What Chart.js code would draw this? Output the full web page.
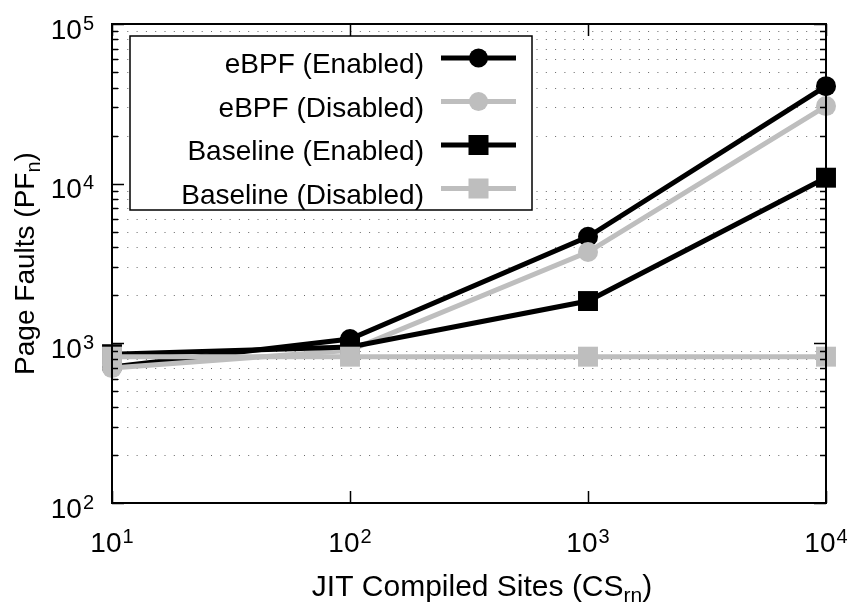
<!DOCTYPE html>
<html>
<head>
<meta charset="utf-8">
<script src="https://cdn.jsdelivr.net/npm/chart.js@4/dist/chart.umd.min.js"></script>
<style>
  html, body { margin: 0; padding: 0; background: #fff; }
  #wrap { width: 857px; height: 602px; }
</style>
</head>
<body>
<div id="wrap"><canvas id="pfChart" width="857" height="602"></canvas></div>
<script>
// JIT compiled sites (x axis) and page faults for each run
const sites = [10, 100, 1000, 10000];
const ebpfEnabled = [710, 1065, 4650, 40800];
const ebpfDisabled = [700, 905, 3730, 30600];
const baseEnabled = [855, 950, 1840, 10900];
const baseDisabled = [825, 825, 825, 825];

const seriesLabels = ['eBPF (Enabled)', 'eBPF (Disabled)', 'Baseline (Enabled)', 'Baseline (Disabled)'];

// tick values (log axes)
const xTicks = [10, 100, 1000, 10000];
const yMajor = [100, 1000, 10000, 100000];
const yMinor = [200, 300, 400, 500, 600, 700, 800, 900,
  2000, 3000, 4000, 5000, 6000, 7000, 8000, 9000,
  20000, 30000, 40000, 50000, 60000, 70000, 80000, 90000];

const FONT = "'Liberation Sans', Arial, sans-serif";
const BLACK = '#000000';
const GRAY = '#bebebe';

function pts(vals) {
  return sites.map((x, i) => ({ x: x, y: vals[i] }));
}

function series(label, vals, color, style, order) {
  return {
    label: label,
    data: pts(vals),
    borderColor: color,
    backgroundColor: color,
    borderWidth: 5,
    pointStyle: style,
    pointRadius: style === 'rect' ? 14.1 : 10,
    pointBorderWidth: 0,
    pointBackgroundColor: color,
    tension: 0,
    clip: false,
    order: order
  };
}

// "10" with a raised exponent
function powText(ctx, exp, x, baseY, align) {
  ctx.font = '28px ' + FONT;
  const wb = ctx.measureText('10').width;
  ctx.font = '20px ' + FONT;
  const we = ctx.measureText(String(exp)).width;
  const total = wb + 1 + we;
  const left = align === 'right' ? x - total : x - total / 2;
  ctx.textAlign = 'left';
  ctx.textBaseline = 'alphabetic';
  ctx.fillStyle = BLACK;
  ctx.font = '28px ' + FONT;
  ctx.fillText('10', left, baseY);
  ctx.font = '20px ' + FONT;
  ctx.fillText(String(exp), left + wb + 1, baseY - 9);
}

// text with a subscript part, centred on cx
function subText(ctx, main, sub, tail, cx, baseY, size) {
  const subSize = Math.round(size * 0.7);
  ctx.font = size + 'px ' + FONT;
  const w1 = ctx.measureText(main).width;
  const w3 = ctx.measureText(tail).width;
  ctx.font = subSize + 'px ' + FONT;
  const w2 = ctx.measureText(sub).width;
  let x = cx - (w1 + w2 + w3) / 2;
  ctx.textAlign = 'left';
  ctx.textBaseline = 'alphabetic';
  ctx.fillStyle = BLACK;
  ctx.font = size + 'px ' + FONT;
  ctx.fillText(main, x, baseY);
  ctx.font = subSize + 'px ' + FONT;
  ctx.fillText(sub, x + w1, baseY + 6);
  ctx.font = size + 'px ' + FONT;
  ctx.fillText(tail, x + w1 + w2, baseY);
}

const gridPlugin = {
  id: 'gridPlugin',
  beforeDatasetsDraw(chart) {
    const ctx = chart.ctx;
    const a = chart.chartArea;
    const ys = chart.scales.y;
    ctx.save();
    ctx.strokeStyle = '#666';
    ctx.lineWidth = 1;
    ctx.setLineDash([1, 8.3]);
    yMinor.forEach(v => {
      const py = Math.round(ys.getPixelForValue(v)) + 0.5;
      ctx.beginPath();
      ctx.moveTo(a.left + 6, py);
      ctx.lineTo(a.right - 6, py);
      ctx.stroke();
    });
    ctx.restore();
  },
  afterDatasetsDraw(chart) {
    const ctx = chart.ctx;
    const a = chart.chartArea;
    const xs = chart.scales.x;
    const ys = chart.scales.y;
    ctx.save();

    // legend box
    const lg = { left: 130, top: 36, right: 532, bottom: 210 };
    ctx.fillStyle = '#fff';
    ctx.fillRect(lg.left, lg.top, lg.right - lg.left, lg.bottom - lg.top);
    ctx.strokeStyle = BLACK;
    ctx.lineWidth = 1.5;
    ctx.strokeRect(lg.left, lg.top, lg.right - lg.left, lg.bottom - lg.top);
    const rowY = [58, 101.5, 145, 188.5];
    chart.data.datasets.forEach((ds, i) => {
      const y = rowY[i];
      ctx.fillStyle = BLACK;
      ctx.font = '28px ' + FONT;
      ctx.textAlign = 'right';
      ctx.textBaseline = 'alphabetic';
      ctx.fillText(ds.label, 424, y + 15);
      ctx.strokeStyle = ds.borderColor;
      ctx.lineWidth = 5;
      ctx.beginPath();
      ctx.moveTo(441, y);
      ctx.lineTo(516, y);
      ctx.stroke();
      ctx.fillStyle = ds.borderColor;
      if (ds.pointStyle === 'rect') {
        ctx.fillRect(478.5 - 10, y - 10, 20, 20);
      } else {
        ctx.beginPath();
        ctx.arc(478.5, y, 9.5, 0, Math.PI * 2);
        ctx.fill();
      }
    });

    // frame
    ctx.strokeStyle = BLACK;
    ctx.lineWidth = 2;
    ctx.strokeRect(a.left, a.top, a.right - a.left, a.bottom - a.top);

    // y ticks, left and right
    ctx.lineWidth = 1.5;
    const yt = yMajor.map(v => [v, 12]).concat(yMinor.map(v => [v, 6]));
    yt.forEach(([v, len]) => {
      const py = Math.round(ys.getPixelForValue(v)) + 0.5;
      ctx.beginPath();
      ctx.moveTo(a.left, py);
      ctx.lineTo(a.left + len, py);
      ctx.moveTo(a.right, py);
      ctx.lineTo(a.right - len, py);
      ctx.stroke();
    });
    // x ticks, bottom and top
    xTicks.forEach(v => {
      const px = Math.round(xs.getPixelForValue(v)) + 0.5;
      ctx.beginPath();
      ctx.moveTo(px, a.bottom);
      ctx.lineTo(px, a.bottom - 12);
      ctx.moveTo(px, a.top);
      ctx.lineTo(px, a.top + 12);
      ctx.stroke();
    });

    // tick labels
    yMajor.forEach(v => {
      powText(ctx, Math.round(Math.log10(v)), 94, ys.getPixelForValue(v) + 14.5, 'right');
    });
    xTicks.forEach(v => {
      powText(ctx, Math.round(Math.log10(v)), xs.getPixelForValue(v), 552, 'center');
    });

    // axis titles
    subText(ctx, 'JIT Compiled Sites (CS', 'rn', ')', 482, 596, 30);
    ctx.save();
    ctx.translate(34, (a.top + a.bottom) / 2);
    ctx.rotate(-Math.PI / 2);
    subText(ctx, 'Page Faults (PF', 'n', ')', 0, 0, 28);
    ctx.restore();

    ctx.restore();
  }
};

const ctx = document.getElementById('pfChart').getContext('2d');

const pfChart = new Chart(ctx, {
  type: 'line',
  data: {
    datasets: [
      series(seriesLabels[0], ebpfEnabled, BLACK, 'circle', 4),
      series(seriesLabels[1], ebpfDisabled, GRAY, 'circle', 3),
      series(seriesLabels[2], baseEnabled, BLACK, 'rect', 2),
      series(seriesLabels[3], baseDisabled, GRAY, 'rect', 1)
    ]
  },
  options: {
    responsive: false,
    animation: false,
    events: [],
    layout: {
      padding: { left: 112, top: 24, right: 31, bottom: 99 }
    },
    plugins: {
      legend: { display: false },
      tooltip: { enabled: false }
    },
    scales: {
      x: {
        type: 'logarithmic',
        display: false,
        min: 10,
        max: 10000
      },
      y: {
        type: 'logarithmic',
        display: false,
        min: 100,
        max: 100000
      }
    }
  },
  plugins: [gridPlugin]
});
</script>
</body>
</html>
